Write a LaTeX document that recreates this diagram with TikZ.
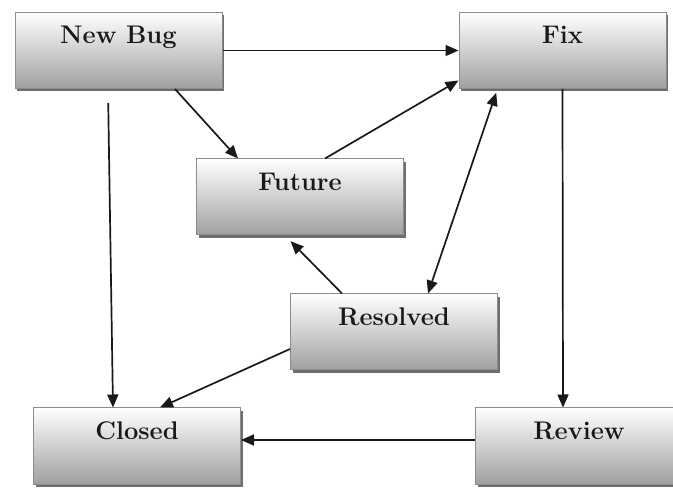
\documentclass[tikz,border=0pt]{standalone}
\usepackage{tikz}
\usetikzlibrary{arrows.meta,shadows}

\definecolor{boxedge}{HTML}{8C8C8C}
\definecolor{boxlow}{HTML}{A0A0A0}
\definecolor{boxshadow}{HTML}{6E6E6E}

\begin{document}
\begin{tikzpicture}[x=1pt,y=-1pt,
    bugstate/.style={rectangle,draw=boxedge,line width=1pt,
        top color=white,bottom color=boxlow,
        drop shadow={shadow xshift=2pt,shadow yshift=-3pt,fill=boxshadow,opacity=1},
        minimum width=207pt,minimum height=76pt,inner ysep=0pt,
        text height=12pt,text depth=25pt,text=black!90,
        font=\fontsize{25.5}{28}\selectfont\bfseries},
    flow/.style={-{Triangle[length=13pt,width=11pt]},line width=1.7pt,black!90}]
    \useasboundingbox (0,0) rectangle (673,489);
    \node[bugstate] (newbug) at (118.5,50.5) {New Bug};
    \node[bugstate] (fix) at (562.5,50.5) {Fix};
    \node[bugstate] (future) at (300,197) {Future};
    \node[bugstate] (resolved) at (394,332) {Resolved};
    \node[bugstate] (closed) at (137,446) {Closed};
    \node[bugstate] (review) at (579,446) {Review};

    \draw[flow] (newbug.east) -- (fix.west);
    \draw[flow] ([xshift=56.5pt]newbug.south) -- ([xshift=-62pt]future.north);
    \draw[flow,shorten <=14pt] ([xshift=-10.5pt]newbug.south) -- ([xshift=-24pt]closed.north);
    \draw[flow] ([xshift=25pt]future.north) -- ([yshift=-30pt]fix.west);
    \draw[flow,{Triangle[length=13pt,width=11pt]}-{Triangle[length=13pt,width=11pt]},shorten >=4pt]
        ([xshift=34pt]resolved.north) -- ([xshift=-65pt]fix.south);
    \draw[flow,shorten >=8pt] ([xshift=-52pt]resolved.north) -- ([xshift=-15pt]future.south);
    \draw[flow] ([yshift=-17pt]resolved.west) -- ([xshift=23pt]closed.north);
    \draw[flow] (fix.south) -- ([xshift=-16pt]review.north);
    \draw[flow] ([yshift=6pt]review.west) -- ([yshift=6pt]closed.east);
\end{tikzpicture}
\end{document}
